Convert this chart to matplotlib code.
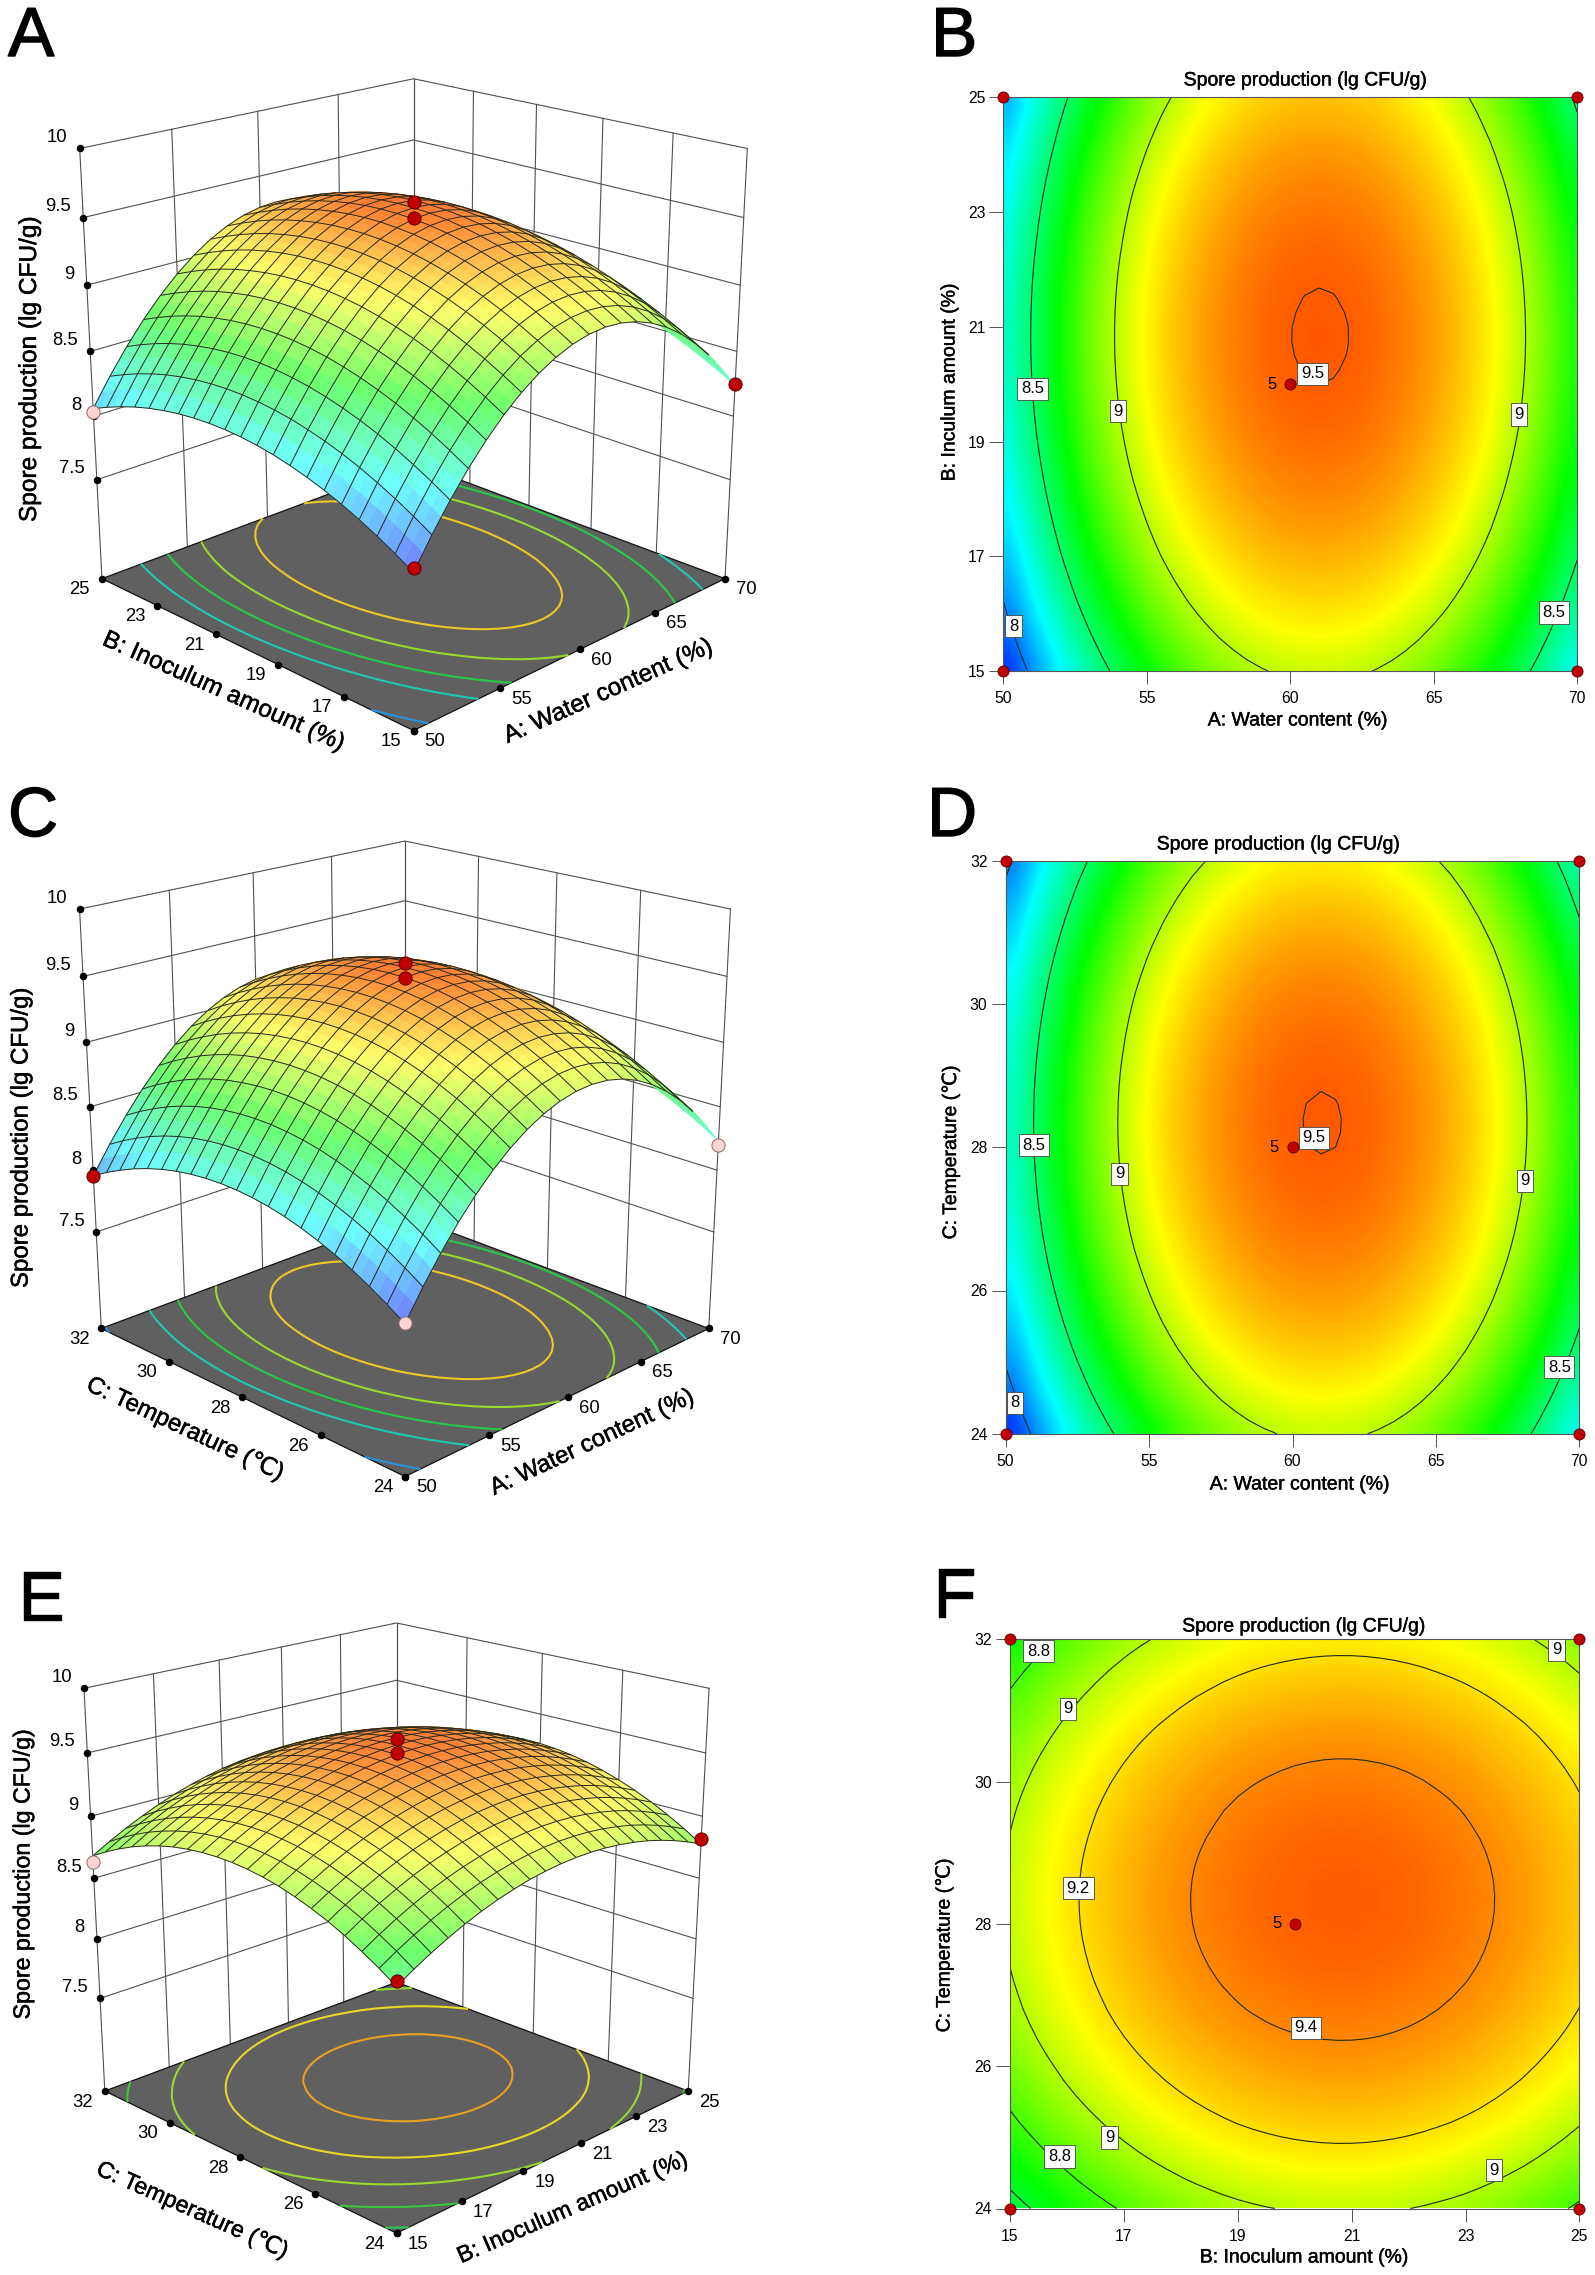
import numpy as np
import matplotlib
matplotlib.use('Agg')
import matplotlib.pyplot as plt
import matplotlib.patheffects as pe
from matplotlib.colors import LinearSegmentedColormap, Normalize, LightSource
from mpl_toolkits.mplot3d import proj3d
from mpl_toolkits.mplot3d.art3d import Line3DCollection

plt.rcParams['font.family'] = ['Liberation Sans', 'DejaVu Sans']

W_PX, H_PX = 1595, 2275

# change in lg CFU/g against the best setting of each factor
water = [50, 50.5, 51, 51.5, 52, 52.5, 53, 53.5, 54, 54.5, 55, 55.5, 56, 56.5, 57, 57.5, 58, 58.5, 59, 59.5, 60,
         60.5, 61, 61.5, 62, 62.5, 63, 63.5, 64, 64.5, 65, 65.5, 66, 66.5, 67, 67.5, 68, 68.5, 69, 69.5, 70]
water_effect = [-1.209, -1.102, -1.000, -0.903, -0.811, -0.723, -0.641, -0.564, -0.492, -0.424, -0.362,
                -0.304, -0.252, -0.204, -0.162, -0.124, -0.092, -0.064, -0.0413, -0.0235, -0.0107,
                -0.0029, 0.0, -0.0021, -0.0091, -0.0211, -0.038, -0.060, -0.087, -0.119, -0.156,
                -0.197, -0.244, -0.296, -0.352, -0.414, -0.480, -0.552, -0.629, -0.710, -0.796]
inoculum = [15, 15.25, 15.5, 15.75, 16, 16.25, 16.5, 16.75, 17, 17.25, 17.5, 17.75, 18, 18.25, 18.5, 18.75, 19,
            19.25, 19.5, 19.75, 20, 20.25, 20.5, 20.75, 21, 21.25, 21.5, 21.75, 22, 22.25, 22.5, 22.75, 23,
            23.25, 23.5, 23.75, 24, 24.25, 24.5, 24.75, 25]
inoculum_effect = [-0.477, -0.437, -0.399, -0.363, -0.328, -0.295, -0.264, -0.234, -0.206, -0.180, -0.156,
                   -0.134, -0.113, -0.094, -0.077, -0.061, -0.047, -0.035, -0.025, -0.0166, -0.0099,
                   -0.0049, -0.0016, -0.0001, -0.0004, -0.0024, -0.0061, -0.0116, -0.0188, -0.028, -0.039,
                   -0.051, -0.065, -0.081, -0.099, -0.119, -0.140, -0.163, -0.188, -0.214, -0.242]
temperature = [24, 24.2, 24.4, 24.6, 24.8, 25, 25.2, 25.4, 25.6, 25.8, 26, 26.2, 26.4, 26.6, 26.8, 27, 27.2,
               27.4, 27.6, 27.8, 28, 28.2, 28.4, 28.6, 28.8, 29, 29.2, 29.4, 29.6, 29.8, 30, 30.2, 30.4,
               30.6, 30.8, 31, 31.2, 31.4, 31.6, 31.8, 32]
temperature_effect = [-0.480, -0.437, -0.396, -0.357, -0.320, -0.285, -0.251, -0.220, -0.191, -0.164, -0.140,
                      -0.117, -0.096, -0.077, -0.060, -0.046, -0.033, -0.0225, -0.0140, -0.0074, -0.0029,
                      -0.0005, -0.0001, -0.0017, -0.0054, -0.0111, -0.019, -0.029, -0.040, -0.054, -0.070,
                      -0.088, -0.108, -0.130, -0.154, -0.181, -0.209, -0.239, -0.271, -0.305, -0.342]

peak_ab, peak_ac, peak_bc = 9.51, 9.505, 9.50

water_ticks = [50, 55, 60, 65, 70]
inoculum_ticks = [15, 17, 19, 21, 23, 25]
temperature_ticks = [24, 26, 28, 30, 32]
z_ticks = [7.5, 8, 8.5, 9, 9.5, 10]
z_floor, z_top = 6.7, 10

floor_levels_wide = [8, 8.5, 8.75, 9, 9.25]
floor_colors_wide = ['#2a90d8', '#20c8b0', '#28c848', '#98d830', '#ecc828']
floor_levels_bc = [8.6, 8.8, 9, 9.2, 9.4]
floor_colors_bc = ['#30c850', '#3cc83c', '#98d830', '#e8d828', '#e8a020']

# design points: (x, y, response, is it under the surface)
runs_a = [(60, 20, 9.61, False), (60, 20, 9.50, False), (50, 15, 7.855, False), (50, 25, 8.03, True), (70, 15, 8.25, False)]
runs_c = [(60, 28, 9.60, False), (60, 28, 9.49, False), (50, 24, 7.82, True), (50, 32, 7.95, False), (70, 24, 8.20, True)]
runs_e = [(20, 28, 9.61, False), (20, 28, 9.50, False), (15, 24, 8.585, False), (15, 32, 8.63, True), (25, 24, 8.82, False)]

labels_b = [('8.5', 51.02, 19.92), ('9', 54.0, 19.53), ('9', 67.98, 19.47), ('9.5', 60.78, 20.18), ('8', 50.35, 15.78), ('8.5', 69.2, 16.02)]
labels_d = [('8.5', 50.98, 28.03), ('9', 53.97, 27.63), ('9', 68.1, 27.53), ('9.5', 60.75, 28.13), ('8', 50.33, 24.43), ('8.5', 69.3, 24.93)]
labels_f = [('8.8', 15.5, 31.83), ('9', 16.02, 31.02), ('9.2', 16.2, 28.5), ('9.4', 20.2, 26.54), ('9', 16.75, 25.0),
            ('8.8', 15.87, 24.73), ('9', 23.5, 24.54), ('9', 24.6, 31.85)]

cmap = LinearSegmentedColormap.from_list('de', ['#0000ff', '#00ffff', '#00ff00', '#ffff00', '#ff3c00'])
norm = Normalize(7.72, 9.58)

fig = plt.figure(figsize=(W_PX / 100, H_PX / 100), dpi=100)


def put_text(x, y, s, heavy=0, **kw):
    t = fig.text(x / W_PX, 1 - y / H_PX, s, ha=kw.pop('ha', 'center'), va=kw.pop('va', 'center'), **kw)
    if heavy:
        t.set_path_effects([pe.withStroke(linewidth=heavy, foreground='black')])


def response(fx, fy, peak):
    return peak + np.array(fx)[None, :] + np.array(fy)[:, None]


def mesh_segments(X, Y, Z, proj):
    # the dome is convex, so a mesh line shows only beside a cell that faces the eye
    xp, yp, _ = proj3d.proj_transform(X.ravel(), Y.ravel(), Z.ravel(), proj)
    xp, yp = np.reshape(xp, X.shape), np.reshape(yp, X.shape)
    area = ((xp[1:, 1:] - xp[:-1, :-1]) * (yp[1:, :-1] - yp[:-1, 1:])
            - (xp[1:, :-1] - xp[:-1, 1:]) * (yp[1:, 1:] - yp[:-1, :-1]))
    front = area * area[0, 0] > 0
    n, m = X.shape
    segs = []
    for j in range(n):
        for i in range(m):
            p = (X[j, i], Y[j, i], Z[j, i])
            if i < m - 1 and ((j < n - 1 and front[j, i]) or (j > 0 and front[j - 1, i])):
                segs.append([p, (X[j, i + 1], Y[j, i + 1], Z[j, i + 1])])
            if j < n - 1 and ((i < m - 1 and front[j, i]) or (i > 0 and front[j, i - 1])):
                segs.append([p, (X[j + 1, i], Y[j + 1, i], Z[j + 1, i])])
    return segs


def surface_panel(cx, cy, size, xs, fx, ys, fy, peak, xticks, yticks, levels, level_colors, runs):
    rect = [(cx - 0.5135 * size) / W_PX, 1 - (cy + 0.5135 * size) / H_PX, size / W_PX, size / H_PX]
    ax = fig.add_axes(rect, projection='3d')
    ax.computed_zorder = False
    ax.patch.set_visible(False)
    ax.set_xlim(xs[0], xs[-1])
    ax.set_ylim(ys[0], ys[-1])
    ax.set_zlim(z_floor, z_top)
    ax.view_init(elev=19.5, azim=-135)
    ax.set_proj_type('persp', focal_length=0.51)
    ax.set_box_aspect((1, 1, 1), zoom=0.958)
    ax.set_axis_off()

    X, Y = np.meshgrid(xs, ys)
    Z = response(fx, fy, peak)
    x0, x1, y0, y1 = xs[0], xs[-1], ys[0], ys[-1]

    # back walls
    wall = dict(color='#505050', lw=0.8, zorder=1)
    for z in z_ticks:
        ax.plot([x0, x1, x1], [y1, y1, y0], [z, z, z], **wall)
    for x in xticks:
        ax.plot([x, x], [y1, y1], [z_floor, z_top], **wall)
    for y in yticks:
        ax.plot([x1, x1], [y, y], [z_floor, z_top], **wall)

    # floor with its contours
    ax.plot_surface(np.array([[x0, x1], [x0, x1]]), np.array([[y0, y0], [y1, y1]]), np.full((2, 2), z_floor),
                    color='#606060', shade=False, zorder=2, linewidth=0)
    ax.plot([x0, x1, x1, x0, x0], [y0, y0, y1, y1, y0], [z_floor] * 5, color='#111111', lw=0.9, zorder=2.5)
    ax.contour(X, Y, Z, levels=levels, colors=level_colors, zdir='z', offset=z_floor, linewidths=1.5, zorder=3)

    # pale colours, only the very top stays saturated
    fc = cmap(norm(Z))
    pale = np.interp(norm(Z), [0, 0.75, 1], [0.44, 0.42, 0.16])[..., None]
    fc[..., :3] = fc[..., :3] * (1 - pale) + pale
    ax.plot_surface(X, Y, Z, rstride=1, cstride=1, facecolors=fc, shade=True,
                    lightsource=LightSource(azdeg=-135, altdeg=78), zorder=4, linewidth=0.4)

    proj = ax.get_proj()
    ax.add_collection3d(Line3DCollection(mesh_segments(X[::2, ::2], Y[::2, ::2], Z[::2, ::2], proj),
                                         colors='#26281e', linewidths=0.7, zorder=5), autolim=False)

    def label(x, y, z, s, dx, dy, ha):
        xp, yp, _ = proj3d.proj_transform(x, y, z, proj)
        ax.annotate(s, (xp, yp), xytext=(dx * 0.72, dy * 0.72), textcoords='offset points', ha=ha, va='center',
                    fontsize=13.3, annotation_clip=False, zorder=7)

    dot = dict(marker='o', ms=4.4, color='k', ls='none', zorder=6)
    for z in z_ticks:
        ax.plot([x0], [y1], [z], **dot)
        label(x0, y1, z, f'{z:g}', -12, 11, 'right')
    for y in yticks:
        ax.plot([x0], [y], [z_floor], **dot)
        label(x0, y, z_floor, f'{y:g}', -12, -11, 'right')
    for x in xticks:
        ax.plot([x], [y0], [z_floor], **dot)
        label(x, y0, z_floor, f'{x:g}', 11, -11, 'left')

    for x, y, z, under in runs:
        ax.plot([x], [y], [z], marker='o', ms=9.5, ls='none', zorder=8, mew=0.7,
                mfc='#ffd3d3' if under else '#c00000', mec='#8a6a6a' if under else '#5a0000')
    return ax


def contour_panel(left, top, right, bottom, xs, fx, ys, fy, peak, xticks, yticks, levels, labels, center):
    ax = fig.add_axes([left / W_PX, 1 - bottom / H_PX, (right - left) / W_PX, (bottom - top) / H_PX])
    Z = response(fx, fy, peak)
    ax.imshow(Z, origin='lower', extent=[xs[0], xs[-1], ys[0], ys[-1]], aspect='auto', cmap=cmap, norm=norm,
              interpolation='bicubic')
    ax.contour(xs, ys, Z, levels=levels, colors='#1e2a1e', linewidths=0.8)
    for s, x, y in labels:
        ax.text(x, y, s, ha='center', va='center', fontsize=12, zorder=5,
                bbox=dict(boxstyle='square,pad=0.22', fc='white', ec='#444444', lw=0.6))
    for x in (xs[0], xs[-1]):
        for y in (ys[0], ys[-1]):
            ax.plot([x], [y], marker='o', ms=8, mfc='#c00000', mec='#5a0000', mew=0.6, clip_on=False, zorder=6)
    ax.plot([center[0]], [center[1]], marker='o', ms=8, mfc='#c00000', mec='#5a0000', mew=0.6, zorder=6)
    ax.annotate('5', center, xytext=(-13, 0), textcoords='offset points', fontsize=12, ha='center', va='center', zorder=6)
    ax.set_xlim(xs[0], xs[-1])
    ax.set_ylim(ys[0], ys[-1])
    ax.set_xticks(xticks)
    ax.set_yticks(yticks)
    ax.tick_params(axis='x', length=9.5, width=0.7, color='#555555', pad=5, labelsize=11.3)
    ax.tick_params(axis='y', length=10, width=0.7, color='#555555', pad=3, labelsize=11.3)
    for sp in ax.spines.values():
        sp.set_color('#555555')
        sp.set_linewidth(0.8)
    return ax


# 3D panels on the left
surface_panel(413.5, 371, 800, water, water_effect, inoculum, inoculum_effect, peak_ab, water_ticks, inoculum_ticks, floor_levels_wide, floor_colors_wide, runs_a)
surface_panel(405, 1126, 780, water, water_effect, temperature, temperature_effect, peak_ac, water_ticks, temperature_ticks, floor_levels_wide, floor_colors_wide, runs_c)
surface_panel(396.5, 1896.6, 749, inoculum, inoculum_effect, temperature, temperature_effect, peak_bc, inoculum_ticks, temperature_ticks, floor_levels_bc, floor_colors_bc, runs_e)

# contour panels on the right
contour_panel(1003.4, 97.4, 1577, 671, water, water_effect, inoculum, inoculum_effect, peak_ab, water_ticks, inoculum_ticks, [8, 8.5, 9, 9.5], labels_b, (60, 20))
contour_panel(1005.6, 860.6, 1579.4, 1433.8, water, water_effect, temperature, temperature_effect, peak_ac, water_ticks, temperature_ticks, [8, 8.5, 9, 9.5], labels_d, (60, 28))
contour_panel(1010, 1639.2, 1579.4, 2208.5, inoculum, inoculum_effect, temperature, temperature_effect, peak_bc, inoculum_ticks, temperature_ticks, [8.6, 8.8, 9, 9.2, 9.4], labels_f, (20, 28))

title = 'Spore production (lg CFU/g)'
for x, y in [(1306, 81), (1279, 845), (1304.5, 1627)]:
    put_text(x, y, title, fontsize=14, heavy=0.3)
put_text(1298, 721, 'A: Water content (%)', fontsize=14, heavy=0.3)
put_text(1300, 1485, 'A: Water content (%)', fontsize=14, heavy=0.3)
put_text(1304.5, 2258, 'B: Inoculum amount (%)', fontsize=14, heavy=0.3)
put_text(950, 382, 'B: Inculum amount (%)', fontsize=14, rotation=90, heavy=0.3)
put_text(951, 1152, 'C: Temperature (℃)', fontsize=14, rotation=90, heavy=0.3)
put_text(944.5, 1945, 'C: Temperature (℃)', fontsize=14, rotation=90, heavy=0.3)

put_text(608, 692, 'A: Water content (%)', fontsize=17.6, rotation=24, rotation_mode='anchor', heavy=0.35)
put_text(223, 692, 'B: Inoculum amount (%)', fontsize=17.6, rotation=-24, rotation_mode='anchor', heavy=0.35)
put_text(30, 370, title, fontsize=17.6, rotation=90, heavy=0.35)
put_text(592, 1443, 'A: Water content (%)', fontsize=17.3, rotation=25, rotation_mode='anchor', heavy=0.35)
put_text(185, 1429, 'C: Temperature (℃)', fontsize=17.3, rotation=-25, rotation_mode='anchor', heavy=0.35)
put_text(21.5, 1138, title, fontsize=17.3, rotation=90, heavy=0.35)
put_text(572, 2208, 'B: Inoculum amount (%)', fontsize=16.7, rotation=23.5, rotation_mode='anchor', heavy=0.35)
put_text(192, 2210, 'C: Temperature (℃)', fontsize=16.7, rotation=-24, rotation_mode='anchor', heavy=0.35)
put_text(23, 1875, title, fontsize=16.7, rotation=90, heavy=0.35)

for s, x, y in [('A', 8, 56), ('B', 931, 56), ('C', 8, 836), ('D', 927, 836), ('E', 18, 1620), ('F', 933, 1617)]:
    put_text(x, y, s, fontsize=50, ha='left', va='baseline', heavy=1.0)

fig.savefig('out.png', dpi=100)
